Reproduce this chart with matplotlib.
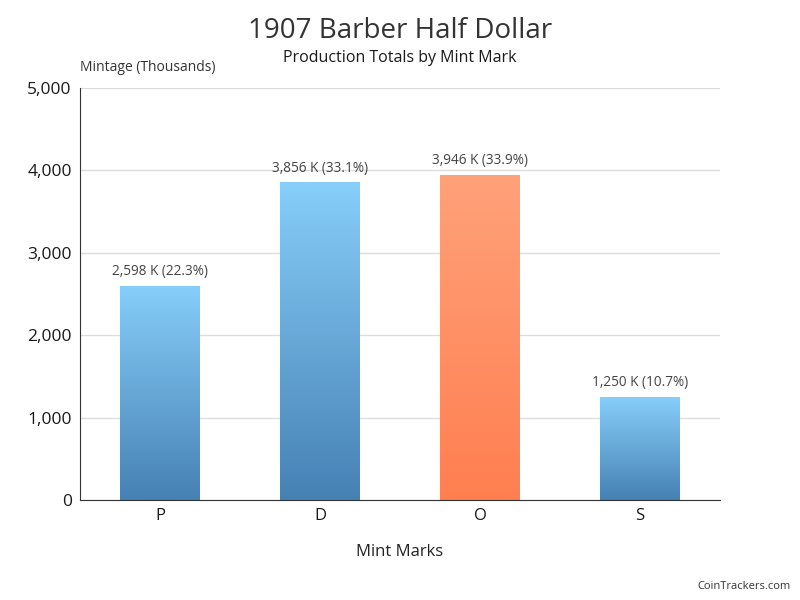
import matplotlib.pyplot as plt
import numpy as np
from matplotlib.colors import LinearSegmentedColormap

plt.rcParams['font.family'] = ['Open Sans', 'DejaVu Sans']

# DATA
mint_marks = ["P", "D", "O", "S"]
mintage = [2598, 3856, 3946, 1250]
shares = [22.3, 33.1, 33.9, 10.7]
highlight = "O"

# COLOURS
blue_cmap = LinearSegmentedColormap.from_list("blue", ["#4681b4", "#87cefa"])
orange_cmap = LinearSegmentedColormap.from_list("orange", ["#ff7f50", "#ffa17a"])

fig = plt.figure(figsize=(8, 6), dpi=100)
ax = fig.add_axes([0.1, 1 - 500 / 600, 0.8, 412 / 600])

ax.set_xlim(-0.5, len(mint_marks) - 0.5)
ax.set_ylim(0, 5000)

grad = np.linspace(0, 1, 256).reshape(-1, 1)
bar_w = 0.5
for i, (mark, val, pct) in enumerate(zip(mint_marks, mintage, shares)):
    cmap = orange_cmap if mark == highlight else blue_cmap
    bar = ax.bar(i, val, width=bar_w, color="none", zorder=2)[0]
    img = ax.imshow(grad, cmap=cmap, origin="lower", aspect="auto",
                    extent=[i - bar_w / 2, i + bar_w / 2, 0, val], zorder=2)
    img.set_clip_path(bar)
    ax.text(i, val + 80, f"{val:,} K ({pct}%)", ha="center", va="bottom",
            fontsize=9.8, color="#444444")

ax.set_xlim(-0.5, len(mint_marks) - 0.5)
ax.set_ylim(0, 5000)

ax.set_yticks(range(0, 5001, 1000))
ax.set_yticklabels([f"{v:,}" for v in range(0, 5001, 1000)], fontsize=12.5, color="#1a1a1a")
ax.set_xticks(range(len(mint_marks)))
ax.set_xticklabels(mint_marks, fontsize=12, color="#1a1a1a")
ax.tick_params(axis="both", length=0, pad=6)
ax.grid(axis="y", color="#dddddd", linewidth=1, zorder=0)
ax.set_axisbelow(True)
for s in ["top", "right"]:
    ax.spines[s].set_visible(False)
ax.spines["left"].set_color("#333333")
ax.spines["bottom"].set_color("#333333")

ax.set_xlabel("Mint Marks", fontsize=12, color="#222222", labelpad=14)

fig.text(0.5, 0.948, "1907 Barber Half Dollar", ha="center", va="center",
         fontsize=20, color="#333333")
fig.text(0.5, 0.903, "Production Totals by Mint Mark", ha="center", va="center",
         fontsize=11.5, color="#1a1a1a")
fig.text(0.1, 0.888, "Mintage (Thousands)", ha="left", va="center",
         fontsize=10, color="#333333")
fig.text(0.988, 0.022, "CoinTrackers.com", ha="right", va="center",
         fontsize=8, color="#333333")

fig.savefig("out.png", dpi=100)
